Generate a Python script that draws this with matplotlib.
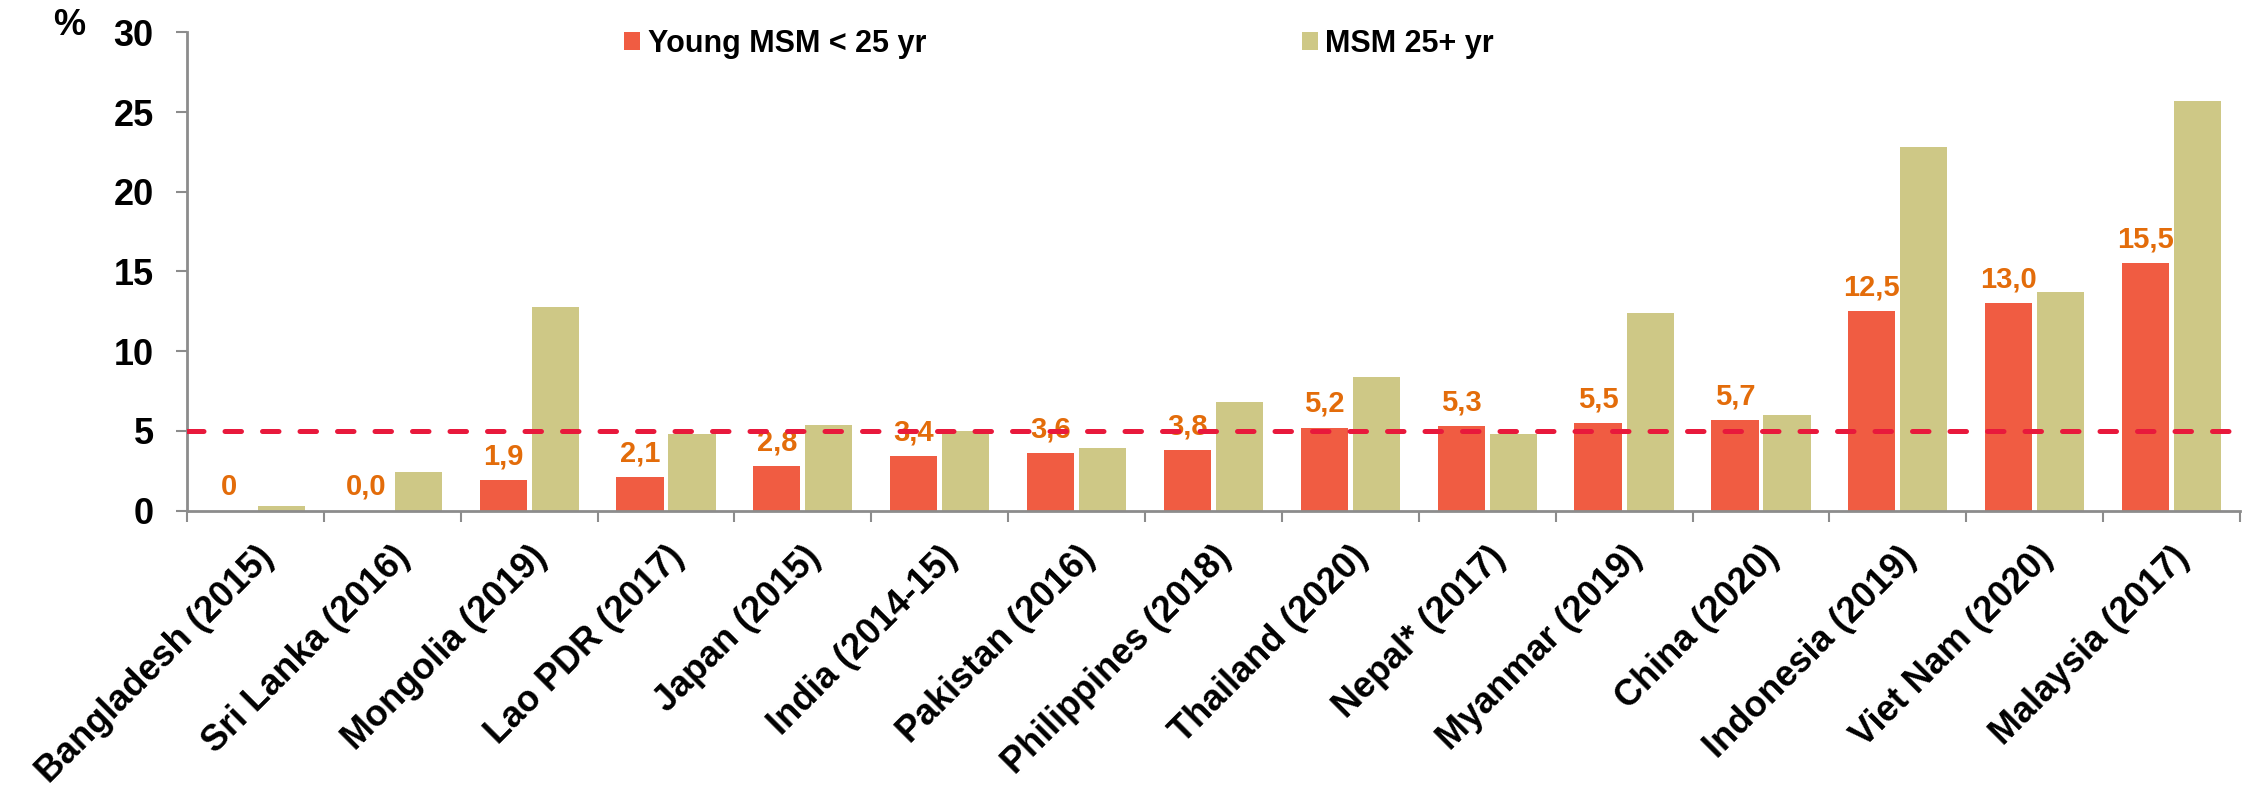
import matplotlib.pyplot as plt
import matplotlib.transforms as mtransforms
import numpy as np

countries = ['Bangladesh (2015)', 'Sri Lanka (2016)', 'Mongolia (2019)', 'Lao PDR (2017)',
             'Japan (2015)', 'India (2014-15)', 'Pakistan (2016)', 'Philippines (2018)',
             'Thailand (2020)', 'Nepal* (2017)', 'Myanmar (2019)', 'China (2020)',
             'Indonesia (2019)', 'Viet Nam (2020)', 'Malaysia (2017)']
young = [0, 0.0, 1.9, 2.1, 2.8, 3.4, 3.6, 3.8, 5.2, 5.3, 5.5, 5.7, 12.5, 13.0, 15.5]
young_labels = ['0', '0,0', '1,9', '2,1', '2,8', '3,4', '3,6', '3,8', '5,2', '5,3',
                '5,5', '5,7', '12,5', '13,0', '15,5']
older = [0.3, 2.4, 12.8, 4.8, 5.4, 5.0, 3.9, 6.8, 8.4, 4.8, 12.4, 6.0, 22.8, 13.7, 25.7]
threshold = 5

plt.rcParams['font.family'] = ['Liberation Sans', 'DejaVu Sans']
plt.rcParams['font.weight'] = 'bold'

red = '#F05C42'
olive = '#CEC886'
grey = '#8C8C8C'

fig = plt.figure(figsize=(22.47, 7.88), dpi=100)
ax = fig.add_axes([0.0832, 0.352, 0.9137, 0.607])

x = np.arange(len(countries))
w = 0.345
ax.bar(x - 0.19, young, w, color=red, label='Young MSM < 25 yr')
ax.bar(x + 0.19, older, w, color=olive, label='MSM 25+ yr')

# data labels above the young MSM bars
for xi, v, t in zip(x, young, young_labels):
    ax.annotate(t, (xi - 0.19, v), xytext=(0, 7), textcoords='offset points',
                ha='center', va='bottom', color='#E36C0A', fontsize=21, fontweight='bold')

ax.axhline(threshold, color='#E8193C', lw=3.6, ls=(0, (3.3, 4.2)),
           dash_capstyle='round', zorder=3)

ax.set_xlim(-0.5, len(countries) - 0.5)
ax.set_ylim(0, 30)
ax.set_yticks(range(0, 31, 5))
ax.set_xticks(np.arange(-0.5, len(countries), 1))
ax.set_xticklabels([])
ax.set_xticks(x, minor=True)
ax.set_xticklabels(countries, minor=True, rotation=45, ha='right', va='top',
                   rotation_mode='anchor', fontsize=26, fontweight='bold')
shift = mtransforms.ScaledTranslation(-0.08, 0, fig.dpi_scale_trans)
for lbl in ax.get_xticklabels(minor=True):
    lbl.set_transform(lbl.get_transform() + shift)
ax.tick_params(axis='x', which='minor', length=0, pad=21)
ax.tick_params(axis='x', which='major', length=8, width=1.5, color=grey)
ax.tick_params(axis='y', length=8, width=1.5, color=grey, pad=16, labelsize=26)

for s in ['top', 'right']:
    ax.spines[s].set_visible(False)
for s in ['left', 'bottom']:
    ax.spines[s].set_color(grey)
    ax.spines[s].set_linewidth(2)

fig.text(0.031, 0.968, '%', fontsize=26, fontweight='bold', ha='center', va='center')

ax.legend(loc='center left', bbox_to_anchor=(0.271, 0.9445), bbox_transform=fig.transFigure,
          ncol=2, frameon=False, prop={'weight': 'bold', 'size': 22}, borderpad=0,
          handlelength=0.52, handleheight=0.52, handletextpad=0.25, columnspacing=12.3)

fig.savefig('out.png', dpi=100)
